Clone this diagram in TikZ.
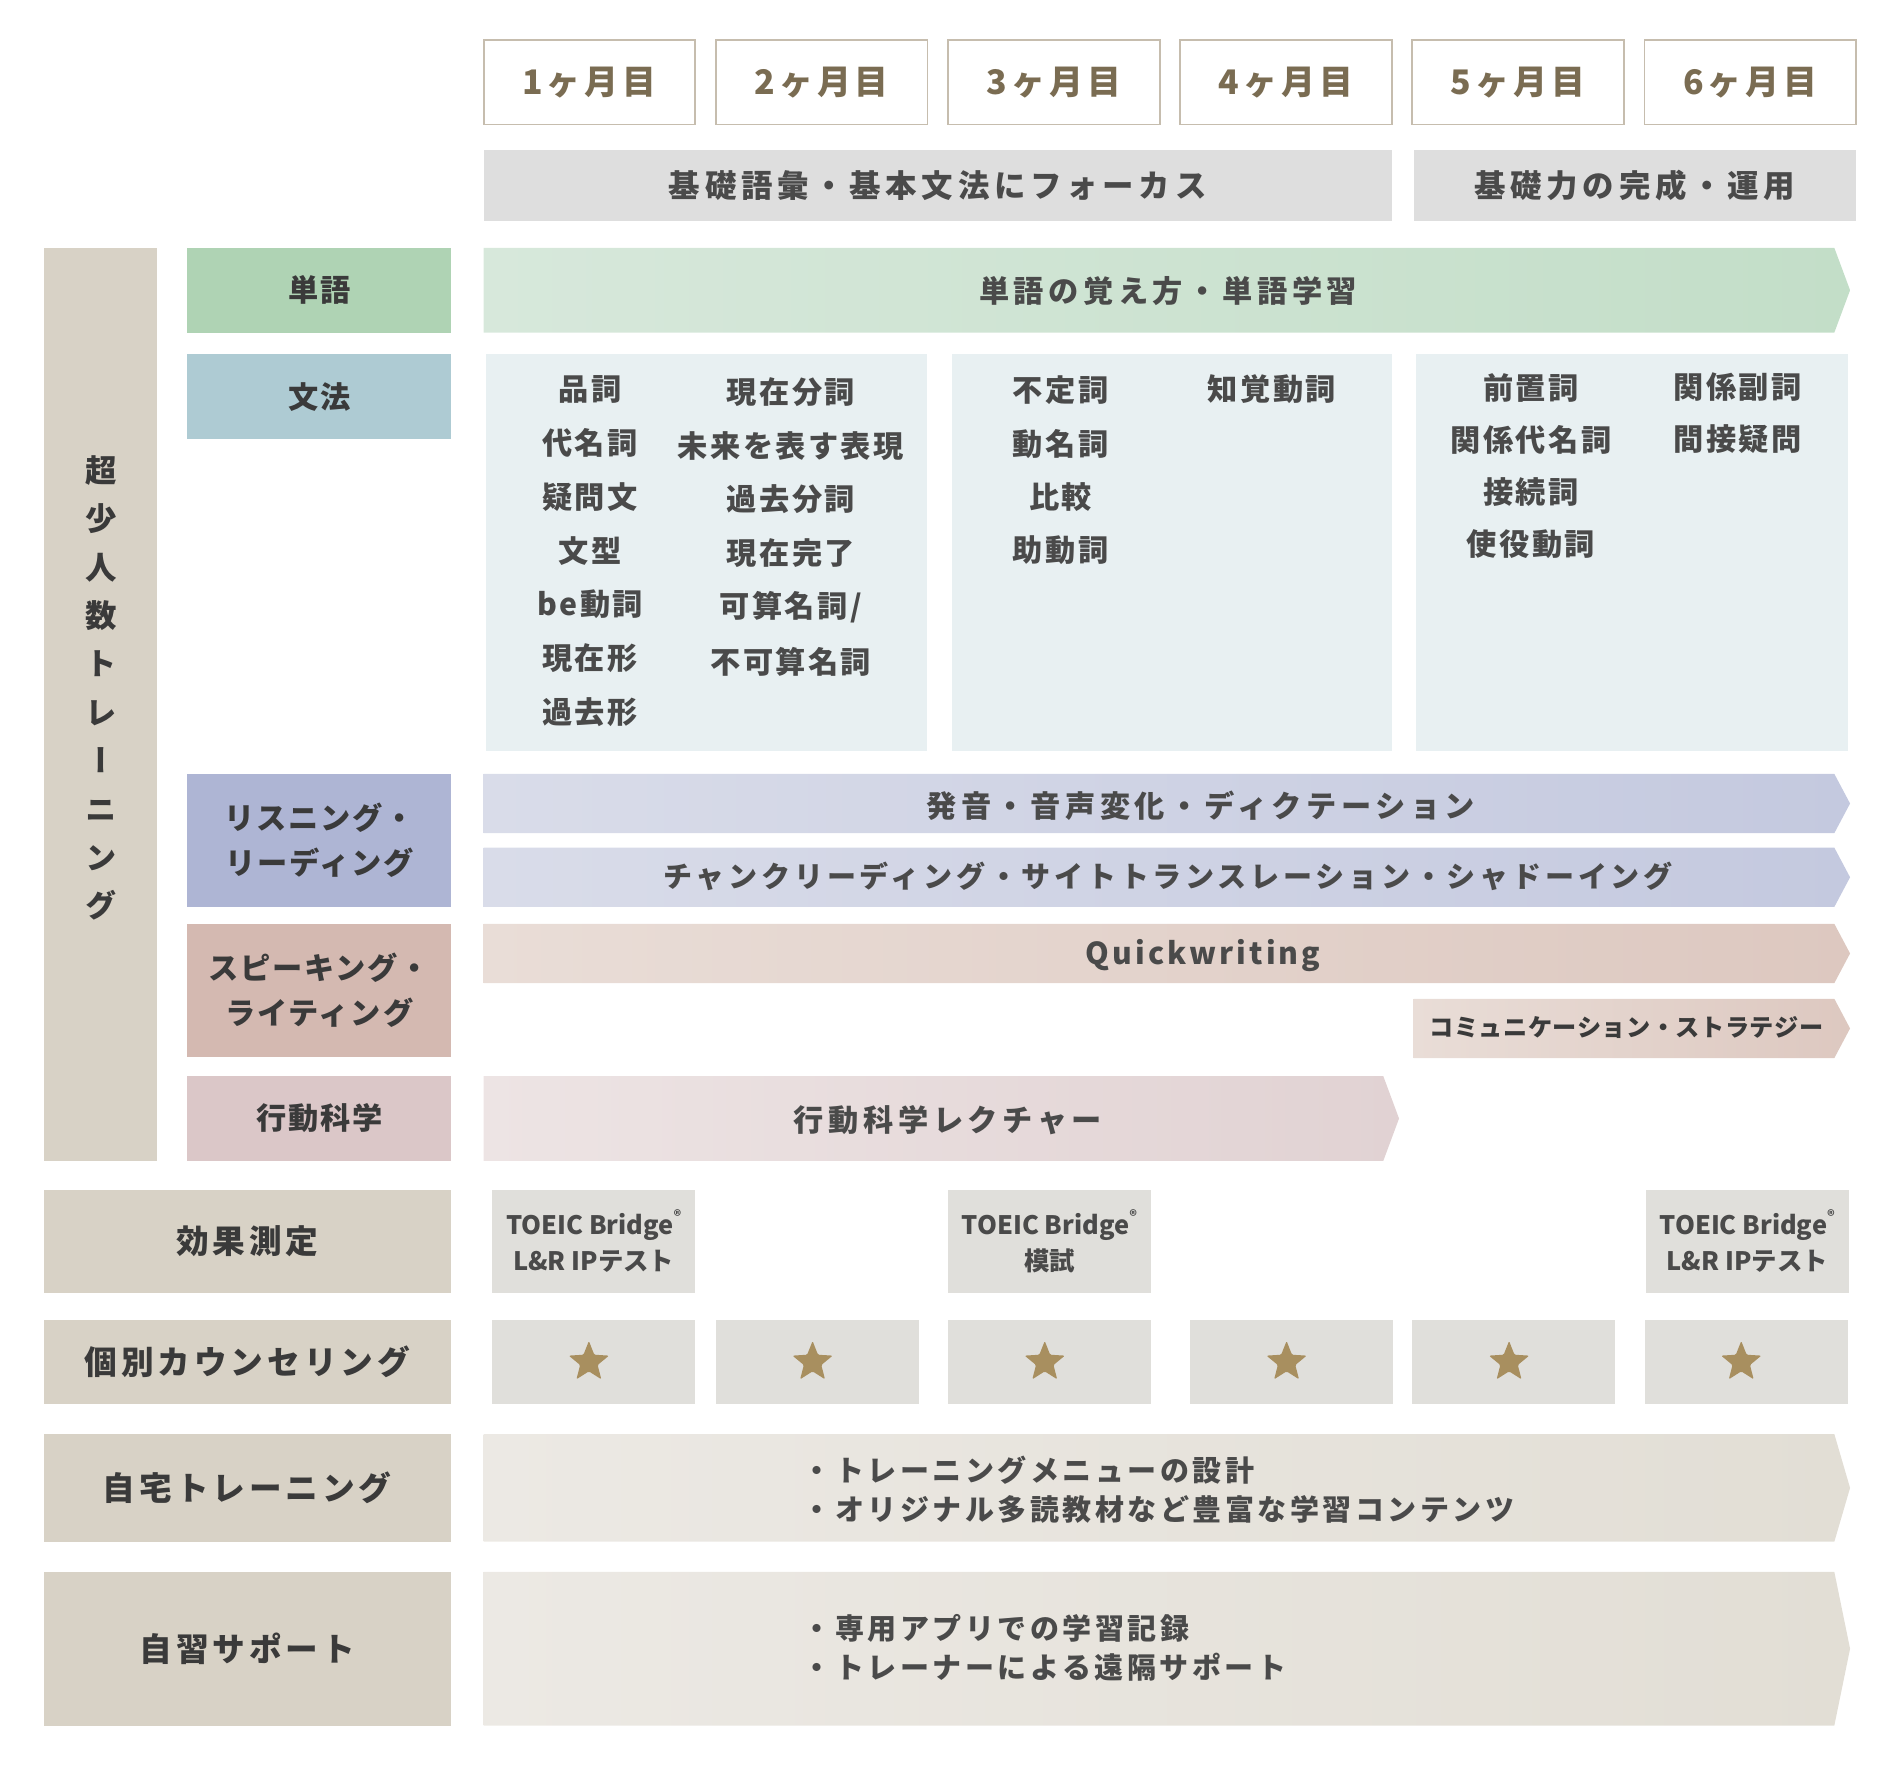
\documentclass[tikz,border=0pt]{standalone}
\usepackage{fontspec}
\setmainfont{Noto Sans CJK JP}
\newfontfamily\vjp{Noto Sans CJK JP}[RawFeature=+vert]
\usetikzlibrary{shapes.geometric}
\definecolor{monthtxt}{HTML}{7A6C52}
\definecolor{monthline}{HTML}{C6BDAE}
\definecolor{phasefill}{HTML}{DEDEDE}
\definecolor{txtc}{HTML}{4A4A4A}
\definecolor{labtxt}{HTML}{3A3A3A}
\definecolor{sidebar}{HTML}{D8D2C6}
\definecolor{wordlab}{HTML}{AFD3B4}
\definecolor{wordL}{HTML}{D7E8DB}
\definecolor{wordR}{HTML}{C3DEC8}
\definecolor{gramlab}{HTML}{AECBD3}
\definecolor{gramfill}{HTML}{E8F0F2}
\definecolor{lrlab}{HTML}{AEB5D4}
\definecolor{lrL}{HTML}{D9DCE9}
\definecolor{lrR}{HTML}{C4C9DF}
\definecolor{swlab}{HTML}{D4B9B1}
\definecolor{swL}{HTML}{E9DDD7}
\definecolor{swR}{HTML}{DDC8C0}
\definecolor{bslab}{HTML}{DBC7C8}
\definecolor{bsL}{HTML}{EDE4E4}
\definecolor{bsR}{HTML}{E1D2D3}
\definecolor{graybox}{HTML}{E0DFDB}
\definecolor{starc}{HTML}{A88F5F}
\definecolor{homeL}{HTML}{ECE9E4}
\definecolor{homeR}{HTML}{E2DED5}
\newcommand\fz[3]{\fontsize{#1}{#2}\selectfont\addfontfeature{LetterSpace=#3}}
\newcommand\bx[7]{\node[#1, minimum width={(#5)-(#3)}, minimum height={(#6)-(#4)}] (#2) at ({((#3)+(#5))/2},{((#4)+(#6))/2}) {#7};}
\newcommand\chev[6]{\shade[left color=#5, right color=#6] (#1,#2) -- ({#3-13},#2) -- (#3,{(#2+#4)/2}) -- ({#3-13},#4) -- (#1,#4) -- cycle;}
\tikzset{
  base/.style={inner sep=0, outer sep=0},
  month/.style={base, draw=monthline, line width=1.5pt, fill=white, text=monthtxt, font=\bfseries\fz{28}{32}{12}},
  phase/.style={base, fill=phasefill, text=txtc, font=\bfseries\fz{26}{30}{15}},
  lab/.style={base, text=labtxt, align=center, font=\bfseries\fz{25}{37}{6}},
  blab/.style={base, fill=sidebar, text=labtxt, align=center, font=\bfseries\fz{27}{32}{12}},
  bartxt/.style={base, text=txtc, font=\bfseries\fz{25}{30}{15}},
  item/.style={base, text=txtc, font=\bfseries\fz{25}{30}{8}},
  toeic/.style={base, fill=graybox, text=txtc, align=center, font=\bfseries\fz{21}{30}{0}},
  sbox/.style={base, fill=graybox},
  star5/.style={star, star points=5, star point ratio=2.3, fill=starc, inner sep=0, minimum size=35pt, rounded corners=1pt},
  home/.style={base, text=txtc, align=left, font=\bfseries\fz{24}{32}{12}},
}
\begin{document}
\begin{tikzpicture}[x=1pt,y=-1pt]
\useasboundingbox (0,0) rectangle (1568,1462);
% months
\bx{month}{m1}{400}{33}{575}{103}{1ヶ月目}
\bx{month}{m2}{592}{33}{767}{103}{2ヶ月目}
\bx{month}{m3}{784}{33}{959}{103}{3ヶ月目}
\bx{month}{m4}{976}{33}{1151}{103}{4ヶ月目}
\bx{month}{m5}{1168}{33}{1343}{103}{5ヶ月目}
\bx{month}{m6}{1360}{33}{1535}{103}{6ヶ月目}
% phases
\bx{phase}{p1}{400}{124}{1151}{183}{基礎語彙・基本文法にフォーカス}
\bx{phase}{p2}{1169}{124}{1535}{183}{基礎力の完成・運用}
% side bar
\bx{base, fill=sidebar}{side}{36}{205}{130}{960}{}
\node[base, text=labtxt, align=center, font=\vjp\bfseries\fontsize{26}{40}\selectfont] (vt) at (84,569) {超\\少\\人\\数\\ト\\レ\\ー\\ニ\\ン\\グ};
% category labels
\bx{lab, fill=wordlab}{lw}{155}{205}{373}{275}{単語}
\bx{lab, fill=gramlab}{lg}{155}{293}{373}{363}{文法}
\bx{lab, fill=lrlab}{llr}{155}{640}{373}{750}{リスニング・\\リーディング}
\bx{lab, fill=swlab}{lsw}{155}{764}{373}{874}{スピーキング・\\ライティング}
\bx{lab, fill=bslab}{lbs}{155}{890}{373}{960}{行動科学}
% word arrow
\chev{400}{205}{1530}{275}{wordL}{wordR}
\node[bartxt] (tw) at (966,241) {単語の覚え方・単語学習};
% grammar panels
\bx{base, fill=gramfill}{g1}{402}{293}{767}{621}{}
\bx{base, fill=gramfill}{g2}{787}{293}{1151}{621}{}
\bx{base, fill=gramfill}{g3}{1171}{293}{1528}{621}{}
\foreach \t [count=\i] in {品詞,代名詞,疑問文,文型,be動詞,現在形,過去形}
  \node[item] (ga\i) at (488,{322+(\i-1)*44.5}) {\t};
\foreach \t [count=\i] in {現在分詞,未来を表す表現,過去分詞,現在完了,可算名詞/,不可算名詞}
  \node[item] (gb\i) at (654,{324+(\i-1)*44.6}) {\t};
\foreach \t [count=\i] in {不定詞,動名詞,比較,助動詞}
  \node[item] (gc\i) at (877,{323+(\i-1)*44}) {\t};
\node[item] (gd1) at (1052,322) {知覚動詞};
\foreach \t [count=\i] in {前置詞,関係代名詞,接続詞,使役動詞}
  \node[item] (ge\i) at (1266,{321+(\i-1)*43}) {\t};
\foreach \t [count=\i] in {関係副詞,間接疑問}
  \node[item] (gf\i) at (1437,{320+(\i-1)*43}) {\t};
% listening / reading
\chev{400}{640}{1530}{689}{lrL}{lrR}
\node[bartxt] (t1) at (993,666) {発音・音声変化・ディクテーション};
\chev{400}{701}{1530}{750}{lrL}{lrR}
\node[bartxt, font=\bfseries\fz{24}{30}{13}] (t2) at (966,725) {チャンクリーディング・サイトトランスレーション・シャドーイング};
% speaking / writing
\chev{400}{764}{1530}{813}{swL}{swR}
\node[bartxt, font=\bfseries\fz{25}{30}{10}] (t3) at (995,790) {Quickwriting};
\chev{1169}{826}{1530}{875}{swL}{swR}
\node[base, text=labtxt, font=\bfseries\fz{20}{24}{2}] (t4) at (1345,850) {コミュニケーション・ストラテジー};
% behavioural science
\chev{400}{890}{1157}{960}{bsL}{bsR}
\node[bartxt] (t5) at (784,926) {行動科学レクチャー};
% bottom rows
\bx{blab}{b1}{36}{984}{373}{1069}{効果測定}
\bx{toeic}{e1}{407}{984}{575}{1069}{TOEIC Bridge\raisebox{0.5em}{\fontsize{12}{12}\selectfont ®}\\L\&R IPテスト}
\bx{toeic}{e2}{784}{984}{952}{1069}{TOEIC Bridge\raisebox{0.5em}{\fontsize{12}{12}\selectfont ®}\\模試}
\bx{toeic}{e3}{1361}{984}{1529}{1069}{TOEIC Bridge\raisebox{0.5em}{\fontsize{12}{12}\selectfont ®}\\L\&R IPテスト}
\bx{blab}{b2}{36}{1092}{373}{1161}{個別カウンセリング}
\bx{sbox}{s1}{407}{1092}{575}{1161}{}
\bx{sbox}{s2}{592}{1092}{760}{1161}{}
\bx{sbox}{s3}{784}{1092}{952}{1161}{}
\bx{sbox}{s4}{984}{1092}{1152}{1161}{}
\bx{sbox}{s5}{1168}{1092}{1336}{1161}{}
\bx{sbox}{s6}{1360}{1092}{1528}{1161}{}
\foreach \i in {1,...,6} \node[star5] (st\i) at ([xshift=-4pt]s\i.center) {};
\bx{blab}{b3}{36}{1186}{373}{1275}{自宅トレーニング}
\chev{400}{1186}{1530}{1275}{homeL}{homeR}
\node[home, anchor=west] (h1) at (664,1232) {・トレーニングメニューの設計\\・オリジナル多読教材など豊富な学習コンテンツ};
\bx{blab}{b4}{36}{1300}{373}{1427}{自習サポート}
\chev{400}{1300}{1530}{1427}{homeL}{homeR}
\node[home, anchor=west] (h2) at (664,1363) {・専用アプリでの学習記録\\・トレーナーによる遠隔サポート};
\end{tikzpicture}
\end{document}
